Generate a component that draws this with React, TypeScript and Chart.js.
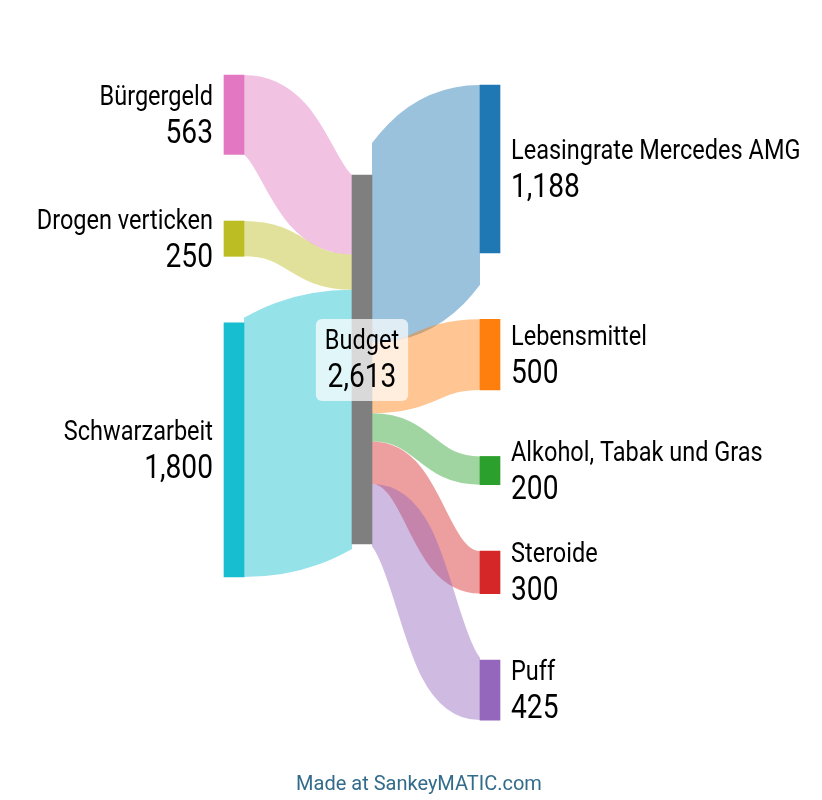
import React, { useEffect, useRef } from "react";
import { Chart, registerables } from "chart.js";

Chart.register(...registerables);

// ---- data ----
const leftNodes = ["Bürgergeld", "Drogen verticken", "Schwarzarbeit"];
const leftValues = [563, 250, 1800];
const centerNode = "Budget";
const rightNodes = ["Leasingrate Mercedes AMG", "Lebensmittel", "Alkohol, Tabak und Gras", "Steroide", "Puff"];
const rightValues = [1188, 500, 200, 300, 425];
const leftColors = ["#e377c2", "#bcbd22", "#17becf"];
const centerColor = "#7f7f7f";
const rightColors = ["#1f77b4", "#ff7f0e", "#2ca02c", "#d62728", "#9467bd"];
const footerText = "Made at SankeyMATIC.com";

// ---- layout (in value units / column units) ----
const GAP = 471; // gap between nodes, in value units
const COLUMN_START = [0, 708, 71]; // vertical offset of each column, value units
const NODE_W = 0.15625; // node width in column units
const FLOW_ALPHA = 0.45;
const SX = 0.84; // horizontal condensation of label font

const sum = (a: number[]) => a.reduce((s, v) => s + v, 0);
const total = sum(leftValues);

type NodeT = { name: string; value: number; col: number; top: number; color: string };

function buildNodes(): NodeT[] {
  const nodes: NodeT[] = [];
  let y = COLUMN_START[0];
  leftNodes.forEach((n, i) => {
    nodes.push({ name: n, value: leftValues[i], col: 0, top: y, color: leftColors[i] });
    y += leftValues[i] + GAP;
  });
  nodes.push({ name: centerNode, value: total, col: 1, top: COLUMN_START[1], color: centerColor });
  y = COLUMN_START[2];
  rightNodes.forEach((n, i) => {
    nodes.push({ name: n, value: rightValues[i], col: 2, top: y, color: rightColors[i] });
    y += rightValues[i] + GAP;
  });
  return nodes;
}

function hexA(hex: string, a: number) {
  const r = parseInt(hex.slice(1, 3), 16);
  const g = parseInt(hex.slice(3, 5), 16);
  const b = parseInt(hex.slice(5, 7), 16);
  return `rgba(${r},${g},${b},${a})`;
}

const fmt = (v: number) => v.toLocaleString("en-US");

export default function App() {
  const ref = useRef<HTMLCanvasElement | null>(null);

  useEffect(() => {
    const canvas = ref.current;
    if (!canvas) return;
    const nodes = buildNodes();
    const center = nodes[leftNodes.length];
    const lefts = nodes.slice(0, leftNodes.length);
    const rights = nodes.slice(leftNodes.length + 1);

    const flowPlugin = {
      id: "flows",
      beforeDatasetsDraw(chart: any) {
        const ctx = chart.ctx;
        const px = (v: number) => chart.scales.x.getPixelForValue(v);
        const py = (v: number) => chart.scales.y.getPixelForValue(v);
        const drawFlow = (x0: number, y0: number, x1: number, y1: number, w: number, color: string) => {
          const xm = (x0 + x1) / 2;
          ctx.save();
          ctx.beginPath();
          ctx.rect(x0, 0, x1 - x0, chart.height);
          ctx.clip();
          ctx.beginPath();
          ctx.moveTo(x0, y0);
          ctx.bezierCurveTo(xm, y0, xm, y1, x1, y1);
          ctx.lineWidth = w;
          ctx.strokeStyle = hexA(color, FLOW_ALPHA);
          ctx.lineCap = "butt";
          ctx.stroke();
          ctx.restore();
        };
        let cy = center.top;
        lefts.forEach((n) => {
          const w = py(n.value) - py(0);
          const y0 = py(n.top + n.value / 2);
          const y1 = py(cy + n.value / 2);
          drawFlow(px(n.col + NODE_W), y0, px(center.col), y1, w, n.color);
          cy += n.value;
        });
        cy = center.top;
        rights.forEach((n) => {
          const w = py(n.value) - py(0);
          const y0 = py(cy + n.value / 2);
          const y1 = py(n.top + n.value / 2);
          drawFlow(px(center.col + NODE_W), y0, px(n.col), y1, w, n.color);
          cy += n.value;
        });
      },
    };

    const labelPlugin = {
      id: "labels",
      afterDatasetsDraw(chart: any) {
        const ctx = chart.ctx;
        const px = (v: number) => chart.scales.x.getPixelForValue(v);
        const py = (v: number) => chart.scales.y.getPixelForValue(v);
        const nameFont = "28px Roboto";
        const valFont = "33.5px Roboto";
        const text = (t: string, x: number, y: number, font: string, align: CanvasTextAlign) => {
          ctx.save();
          ctx.font = font;
          ctx.textAlign = align;
          ctx.textBaseline = "alphabetic";
          ctx.fillStyle = "#000";
          ctx.translate(x, y);
          ctx.scale(SX, 1);
          ctx.fillText(t, 0, 0);
          ctx.restore();
        };
        const width = (t: string, font: string) => {
          ctx.save();
          ctx.font = font;
          const w = ctx.measureText(t).width * SX;
          ctx.restore();
          return w;
        };
        ctx.save();
        nodes.forEach((n) => {
          const c = py(n.top + n.value / 2);
          if (n.col === 0) {
            const x = px(n.col) - 11;
            text(n.name, x, c - 10, nameFont, "right");
            text(fmt(n.value), x, c + 28, valFont, "right");
          } else if (n.col === 2) {
            const x = px(n.col + NODE_W) + 11;
            text(n.name, x, c - 10, nameFont, "left");
            text(fmt(n.value), x, c + 28, valFont, "left");
          } else {
            const x = (px(n.col) + px(n.col + NODE_W)) / 2;
            const bw = Math.max(width(n.name, nameFont), width(fmt(n.value), valFont)) + 18;
            ctx.fillStyle = "rgba(255,255,255,0.7)";
            ctx.beginPath();
            (ctx as any).roundRect(x - bw / 2, c - 40.5, bw, 82, 6);
            ctx.fill();
            text(n.name, x, c - 10, nameFont, "center");
            text(fmt(n.value), x, c + 28, valFont, "center");
          }
        });
        ctx.font = "20px Roboto";
        ctx.fillStyle = "#336b8b";
        ctx.textAlign = "center";
        ctx.textBaseline = "alphabetic";
        ctx.fillText(footerText, chart.width / 2 + 8, 790);
        ctx.restore();
      },
    };

    const chart = new Chart(canvas, {
      type: "bar",
      data: {
        datasets: [
          {
            label: "nodes",
            data: nodes.map((n) => ({ x: n.col + NODE_W / 2, y: [n.top, n.top + n.value] })) as any,
            backgroundColor: nodes.map((n) => n.color),
            borderWidth: 0,
            barThickness: 20,
          },
        ],
      },
      options: {
        animation: false,
        responsive: false,
        maintainAspectRatio: false,
        layout: { padding: 0 },
        plugins: { legend: { display: false }, tooltip: { enabled: false }, title: { display: false } },
        scales: {
          x: { type: "linear", min: -1.75, max: 4.671875, display: false, offset: false, grid: { offset: false } },
          y: { type: "linear", min: -531.1, max: 5133.8, reverse: true, display: false },
        },
      },
      plugins: [flowPlugin, labelPlugin],
    });
    return () => chart.destroy();
  }, []);

  return (
    <div style={{ position: "fixed", left: 0, top: 0, width: 822, height: 800, background: "#fff" }}>
      <canvas ref={ref} width={822} height={800} style={{ width: 822, height: 800, display: "block" }} />
    </div>
  );
}
